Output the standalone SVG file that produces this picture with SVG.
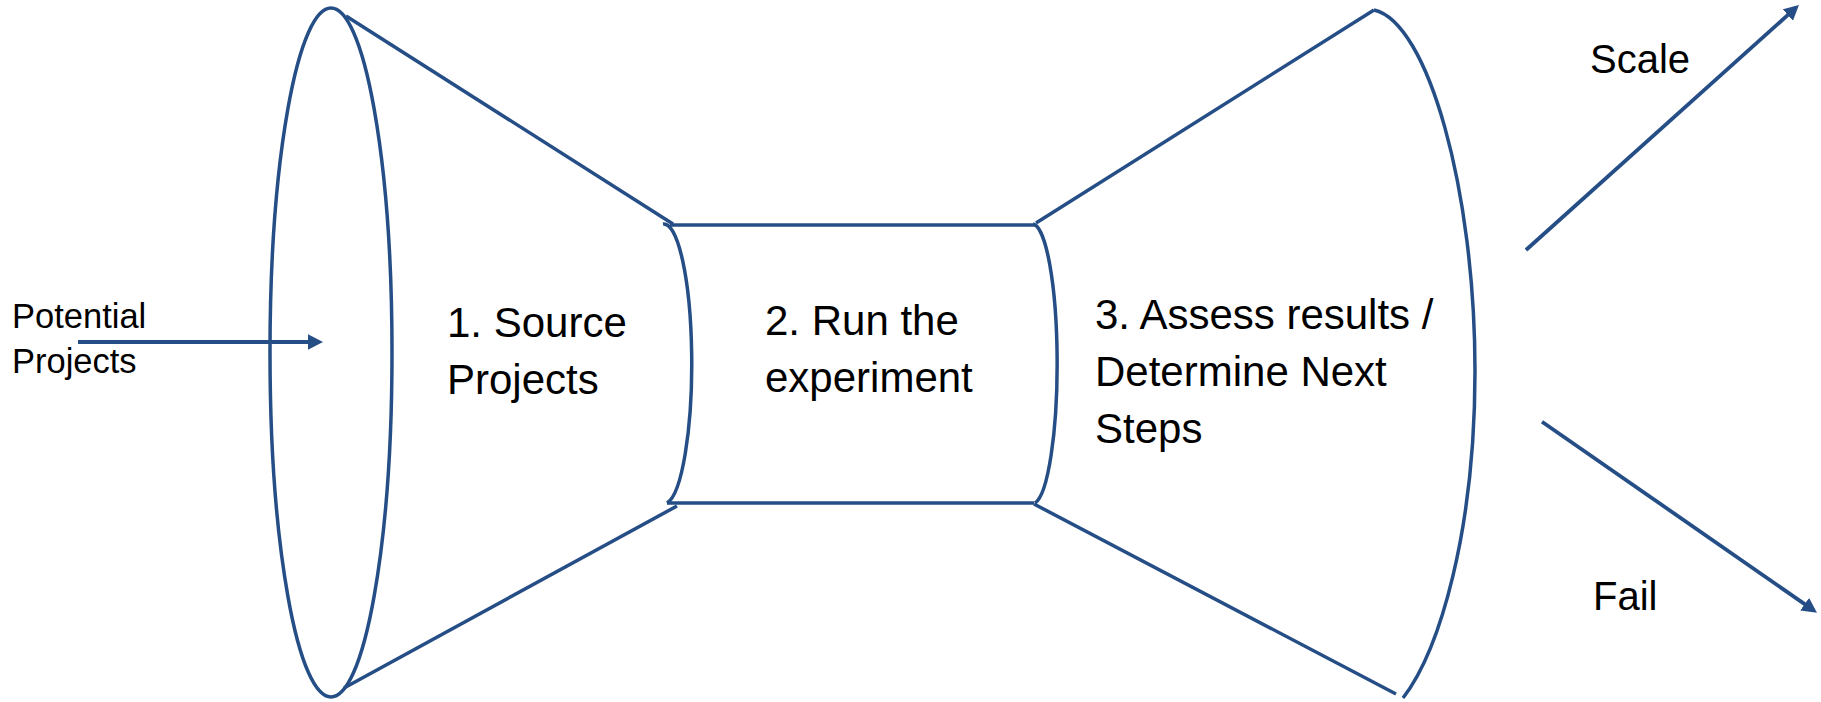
<svg xmlns="http://www.w3.org/2000/svg" width="1821" height="702" viewBox="0 0 1821 702">
<style>
.shape{fill:none;stroke:#264e86;stroke-width:3.5;stroke-linecap:butt}
.conn{fill:none;stroke:#264e86;stroke-width:3.8}
.lbl{font-family:"Liberation Sans",Arial,sans-serif;fill:#000}
.big{font-size:42px}
.mid{font-size:40px}
.small{font-size:34.5px}
</style>
<defs>
<marker id="arr" markerUnits="userSpaceOnUse" viewBox="0 0 16 16" markerWidth="16" markerHeight="16" refX="11" refY="8" orient="auto">
<path d="M0,0.3 L15,8 L0,15.7 z" fill="#264e86"/>
</marker>
</defs>
<rect width="1821" height="702" fill="#fff"/>
<g id="source">
<ellipse class="shape" cx="331" cy="352.5" rx="61" ry="344.5"/>
<line class="shape" x1="346" y1="16" x2="673" y2="224"/>
<line class="shape" x1="344" y1="688" x2="677" y2="506"/>
<text class="lbl big" x="447" y="337">1. Source</text>
<text class="lbl big" x="447" y="394">Projects</text>
</g>
<g id="run">
<line class="shape" x1="670" y1="225" x2="1035" y2="225"/>
<line class="shape" x1="667" y1="503" x2="1034" y2="503"/>
<path class="shape" d="M663,224 A28 140 0 0 1 667,503"/>
<path class="shape" d="M1033,224 A25 140 0 0 1 1035,503"/>
<text class="lbl big" x="765" y="335">2. Run the</text>
<text class="lbl big" x="765" y="392">experiment</text>
</g>
<g id="assess">
<line class="shape" x1="1036" y1="223" x2="1374" y2="10"/>
<line class="shape" x1="1034" y1="504" x2="1396" y2="694"/>
<path class="shape" d="M1374,10 C1428,22 1475,190 1475,371 C1475,530 1440,650 1403,698"/>
<text class="lbl big" x="1095" y="329">3. Assess results /</text>
<text class="lbl big" x="1095" y="386">Determine Next</text>
<text class="lbl big" x="1095" y="443">Steps</text>
</g>
<g id="potential">
<text class="lbl small" x="12" y="328">Potential</text>
<text class="lbl small" x="12" y="373">Projects</text>
</g>
<g id="outcomes">
<text class="lbl mid" x="1590" y="73">Scale</text>
<text class="lbl mid" x="1593" y="610">Fail</text>
</g>
<g id="connectors">
<line class="conn" x1="78" y1="342" x2="319" y2="342" marker-end="url(#arr)"/>
<line class="conn" x1="1526" y1="250" x2="1796" y2="7.7" marker-end="url(#arr)"/>
<line class="conn" x1="1542" y1="421.7" x2="1813.7" y2="610.4" marker-end="url(#arr)"/>
</g>
</svg>
